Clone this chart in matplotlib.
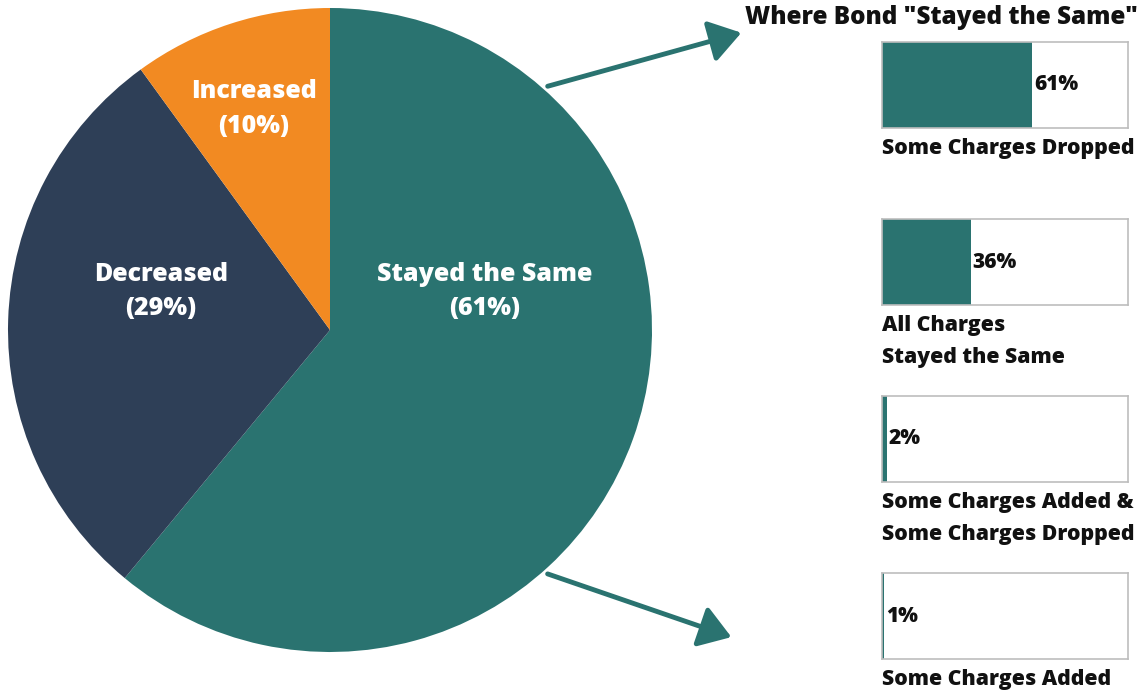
import matplotlib.pyplot as plt
from matplotlib.patches import FancyArrowPatch

plt.rcParams['font.family'] = ['Open Sans', 'DejaVu Sans']
plt.rcParams['font.weight'] = 'bold'

# bond outcome split
outcomes = ['Stayed the Same', 'Decreased', 'Increased']
outcome_pct = [61, 29, 10]
outcome_colors = ['#2a7370', '#2e3f57', '#f28a22']

# breakdown of the "stayed the same" group
detail_labels = ['Some Charges Dropped', 'All Charges\nStayed the Same',
                 'Some Charges Added &\nSome Charges Dropped', 'Some Charges Added']
detail_pct = [61, 36, 2, 1]

W, H = 1144, 694
fig = plt.figure(figsize=(W / 100, H / 100), dpi=100)


def px(x, y, w=0, h=0):
    # pixel box (top-left origin) -> figure fraction rect
    return [x / W, 1 - (y + h) / H, w / W, h / H]


# pie
ax = fig.add_axes(px(8, 8, 644, 644))
ax.pie(outcome_pct, colors=outcome_colors, startangle=90, counterclock=False,
       wedgeprops=dict(edgecolor='none'))
ax.set_aspect('equal')
ax.set_xlim(-1, 1)
ax.set_ylim(-1, 1)

label_pos = [(0.48, 0.12), (-0.525, 0.12), (-0.236, 0.686)]
for name, pct, (lx, ly) in zip(outcomes, outcome_pct, label_pos):
    ax.text(lx, ly, f'{name}\n({pct}%)', color='white', fontsize=18,
            fontweight='heavy', ha='center', va='center', linespacing=1.5)

# arrows pointing to the breakdown
for (x0, y0), (x1, y1) in [((545, 87), (744, 32)), ((545, 573), (734, 638))]:
    arr = FancyArrowPatch((x0 / W, 1 - y0 / H), (x1 / W, 1 - y1 / H),
                          transform=fig.transFigure, arrowstyle='-|>,head_length=12,head_width=8',
                          color='#2a7370', lw=3.5, mutation_scale=1.6)
    fig.patches.append(arr)

fig.text(941 / W, 1 - 18 / H, 'Where Bond "Stayed the Same"', fontsize=17.5,
         fontweight='heavy', ha='center', va='center', color='#111111')

# breakdown bars
box_tops = [42, 219, 396, 573]
for top, lab, pct in zip(box_tops, detail_labels, detail_pct):
    bx = fig.add_axes(px(882, top, 246, 86))
    bx.barh([0], [pct], height=1, color='#2a7370', align='center')
    bx.set_xlim(0, 100)
    bx.set_ylim(-0.5, 0.5)
    bx.set_xticks([])
    bx.set_yticks([])
    for s in bx.spines.values():
        s.set_color('#bdbdbd')
        s.set_linewidth(1.2)
    bx.text(pct + 0.8, 0, f'{pct}%', fontsize=15, fontweight='heavy',
            ha='left', va='center', color='#111111')
    bx.text(0, -0.62, lab, fontsize=15.3, fontweight='heavy', ha='left', va='top',
            color='#111111', linespacing=1.65, transform=bx.transData)

fig.savefig('out.png', dpi=100)
